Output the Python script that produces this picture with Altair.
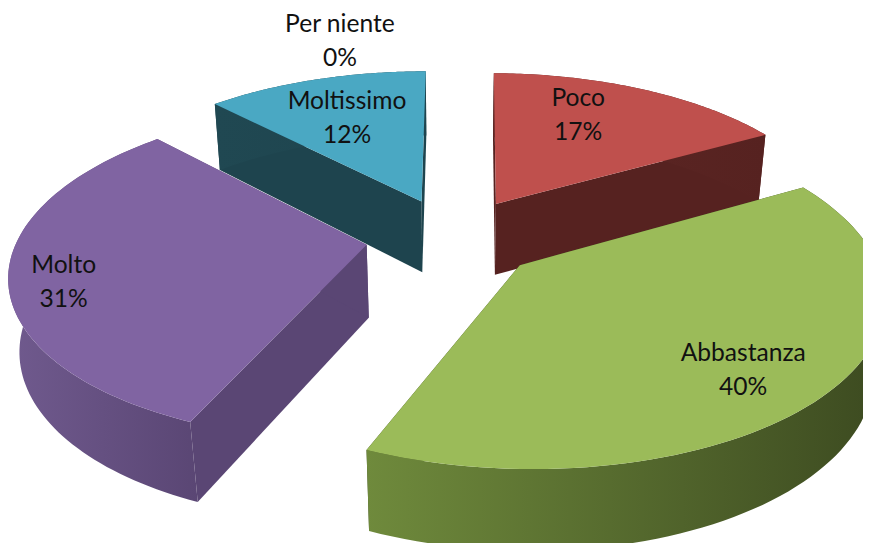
import math
import altair as alt

CATEGORIES = ["Per niente", "Poco", "Abbastanza", "Molto", "Moltissimo"]
SHARES = [0.2, 16.6, 39.6, 31.4, 12.2]
PERCENT_LABELS = ["0%", "17%", "40%", "31%", "12%"]
TOP_COLORS = ["#4F81BD", "#BF504D", "#9BBB59", "#8064A2", "#4AA8C3"]
WALL_LIGHT = ["#2A4A6E", "#5E2725", "#6F8A3C", "#705A8E", "#204852"]
WALL_DARK = ["#2A4A6E", "#562220", "#3C4A20", "#5A4674", "#1E444E"]

# 3D view of the pie
CX, CY, A, C, PERSP, Z_PERSP, HEIGHT, EXPLODE = 453, 237.5, 348.7, 161.5, 0.16, 0.025, 74.3, 0.25
# label anchors on the pie plane (one per text line)
LABEL_U = [-0.411, 0.416, 0.746, -1.086, -0.351]
LABEL_V = [1.67, 0.993, -0.648, -0.171, 0.968]
LINE_GAP = 34


def project(u, v, z=0.0):
    w = 1 / (1 + PERSP * v + Z_PERSP * z)
    return CX + A * u * w, CY - C * v * w + HEIGHT * z * w


def polygon(points):
    rows = [{"x": px, "y": py, "i": i} for i, (px, py) in enumerate(points)]
    return alt.Data(values=rows)


X_SCALE = alt.Scale(domain=[8, 863], range=[0, 855], nice=False, zero=False)
Y_SCALE = alt.Scale(domain=[8, 543], range=[0, 535], nice=False, zero=False)


def layer_for(points, fill):
    return alt.Chart(polygon(points)).mark_line(
        fill=fill, stroke=None, interpolate="linear-closed"
    ).encode(
        x=alt.X("x:Q", scale=X_SCALE, axis=None),
        y=alt.Y("y:Q", scale=Y_SCALE, axis=None),
        order="i:Q",
    )


slices = []
start = 0.0
total = sum(SHARES)
for idx, share in enumerate(SHARES):
    end = start + share / total * 2 * math.pi
    slices.append((idx, start, end))
    start = end

DRAW_ORDER = [4, 1, 3, 2]
layers = []
for idx in DRAW_ORDER:
    _, a0, a1 = slices[idx]
    mid = (a0 + a1) / 2
    ou, ov = EXPLODE * math.sin(mid), EXPLODE * math.cos(mid)
    steps = 80
    rim = [(ou + math.sin(a0 + (a1 - a0) * k / steps), ov + math.cos(a0 + (a1 - a0) * k / steps)) for k in range(steps + 1)]
    top = [project(ou, ov)] + [project(u, v) for u, v in rim]
    bottom = [project(u, v, 1) for u, v in rim]
    gradient = alt.Gradient(
        gradient="linear", x1=0, x2=1, y1=0, y2=0,
        stops=[alt.GradientStop(color=WALL_LIGHT[idx], offset=0), alt.GradientStop(color=WALL_DARK[idx], offset=1)],
    )
    for ru, rv in (rim[0], rim[-1]):
        layers.append(layer_for([project(ou, ov), project(ru, rv), project(ru, rv, 1), project(ou, ov, 1)], WALL_DARK[idx]))
    layers.append(layer_for(top[1:] + bottom[::-1], gradient))
    layers.append(layer_for(top, TOP_COLORS[idx]))

label_rows = []
for name, pct, u, v in zip(CATEGORIES, PERCENT_LABELS, LABEL_U, LABEL_V):
    lx, ly = project(u, v)
    label_rows.append({"x": lx, "y": ly, "t": name})
    label_rows.append({"x": lx, "y": ly + LINE_GAP, "t": pct})

labels = alt.Chart(alt.Data(values=label_rows)).mark_text(
    font="Lato", fontSize=24.6, color="#111111", align="center", baseline="middle",
).encode(
    x=alt.X("x:Q", scale=X_SCALE, axis=None),
    y=alt.Y("y:Q", scale=Y_SCALE, axis=None),
    text="t:N",
)

chart = alt.layer(*layers, labels).properties(
    width=855, height=535, padding=0, autosize=alt.AutoSizeParams(type="none"),
    background="white",
).configure_view(stroke=None)

chart.save("out.html", embed_options={"renderer": "svg", "actions": False})
